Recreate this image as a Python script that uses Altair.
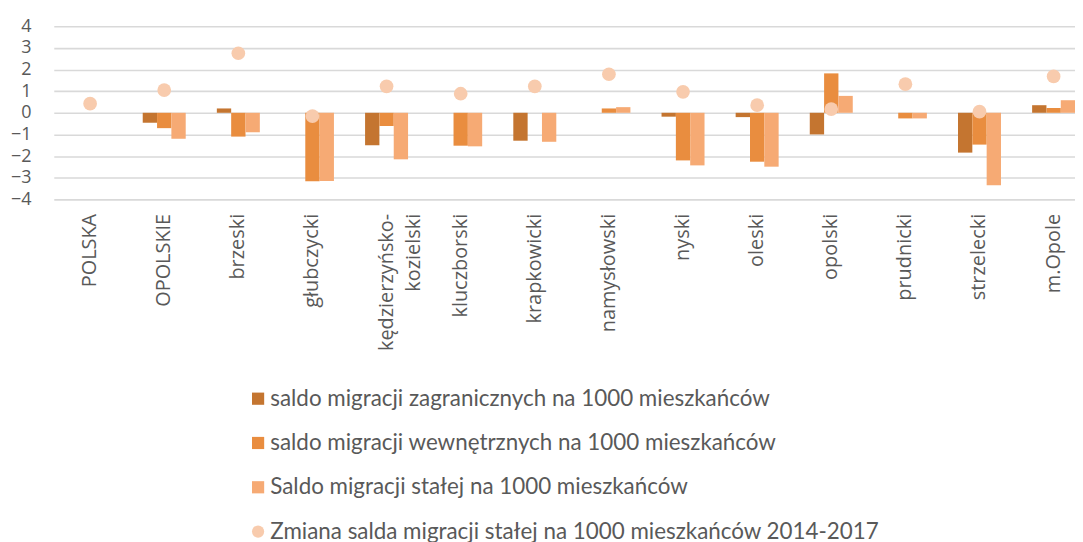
import altair as alt
import pandas as pd

categories = ["POLSKA", "OPOLSKIE", "brzeski", "głubczycki", "kędzierzyńsko-kozielski",
              "kluczborski", "krapkowicki", "namysłowski", "nyski", "oleski", "opolski",
              "prudnicki", "strzelecki", "m.Opole"]
s_zagr = "saldo migracji zagranicznych na 1000 mieszkańców"
s_wewn = "saldo migracji wewnętrznych na 1000 mieszkańców"
s_stala = "Saldo migracji stałej na 1000 mieszkańców"
s_zmiana = "Zmiana salda migracji stałej na 1000 mieszkańców 2014-2017"

zagr = [None, -0.46, 0.2, 0.0, -1.5, 0.0, -1.29, 0.0, -0.18, -0.2, -1.0, 0.0, -1.84, 0.35]
wewn = [None, -0.71, -1.1, -3.16, -0.61, -1.52, 0.0, 0.2, -2.2, -2.26, 1.82, -0.26, -1.47, 0.22]
stala = [None, -1.2, -0.9, -3.15, -2.15, -1.55, -1.34, 0.26, -2.43, -2.49, 0.78, -0.26, -3.35, 0.58]
zmiana = [0.42, 1.05, 2.75, -0.15, 1.22, 0.88, 1.22, 1.78, 0.97, 0.35, 0.17, 1.32, 0.05, 1.68]

series_all = [s_zagr, s_wewn, s_stala, s_zmiana]
colors = ["#C47530", "#E98D3F", "#F6AA74", "#F8CBAD"]
shapes = ["square", "square", "square", "circle"]

bar_rows = []
for name, vals in [(s_zagr, zagr), (s_wewn, wewn), (s_stala, stala)]:
    for c, v in zip(categories, vals):
        if v is not None:
            bar_rows.append({"cat": c, "series": name, "value": v})
bars_df = pd.DataFrame(bar_rows)
pts_df = pd.DataFrame({"cat": categories, "series": s_zmiana, "value": zmiana})

label_expr = ("datum.value == 'kędzierzyńsko-kozielski' ? ['kędzierzyńsko-', 'kozielski'] : datum.value")

x_enc = alt.X("cat:N", sort=categories, title=None,
              scale=alt.Scale(domain=categories, paddingInner=0.42, range=[0, 1041]),
              axis=alt.Axis(labelAngle=-90, labelFont="Open Sans", labelFontSize=20,
                            labelColor="#595959", ticks=False, domain=False,
                            labelPadding=14, labelExpr=label_expr, labelLineHeight=28,
                            labelLimit=400))
y_enc = alt.Y("value:Q", title=None,
              scale=alt.Scale(domain=[-4, 4], nice=False),
              axis=alt.Axis(values=[-4, -3, -2, -1, 0, 1, 2, 3, 4], labelFont="Open Sans",
                            labelFontSize=18, labelColor="#595959", ticks=False,
                            domain=False, labelPadding=23, gridColor="#D9D9D9",
                            gridWidth=1.6))

color_scale = alt.Scale(domain=series_all, range=colors)
shape_scale = alt.Scale(domain=series_all, range=shapes)

legend = alt.Legend(title=None, orient="none", legendX=194, legendY=363, direction="vertical",
                    labelFont="Lato", labelFontSize=22.5, labelColor="#595959", rowPadding=21.5,
                    symbolSize=150, labelLimit=1000, symbolStrokeWidth=0, labelOffset=1,
                    symbolOpacity=1)

bars = alt.Chart(bars_df).mark_bar().encode(
    x=x_enc,
    xOffset=alt.XOffset("series:N", scale=alt.Scale(domain=series_all[:3], paddingInner=0, paddingOuter=0), sort=series_all[:3]),
    y=y_enc,
    color=alt.Color("series:N", scale=color_scale, legend=legend),
)

points = alt.Chart(pts_df).mark_point(filled=True, opacity=1, size=190).encode(
    x=x_enc,
    y=y_enc,
    color=alt.Color("series:N", scale=color_scale, legend=legend),
    shape=alt.Shape("series:N", scale=shape_scale, legend=legend),
)

chart = alt.layer(bars, points).properties(
    width=1026, height=174,
    autosize=alt.AutoSizeParams(type="none"),
    padding={"left": 46, "top": 17, "right": 0, "bottom": 352},
).configure_view(stroke=None)

chart.save("out.html", embed_options={"renderer": "svg", "actions": False})
